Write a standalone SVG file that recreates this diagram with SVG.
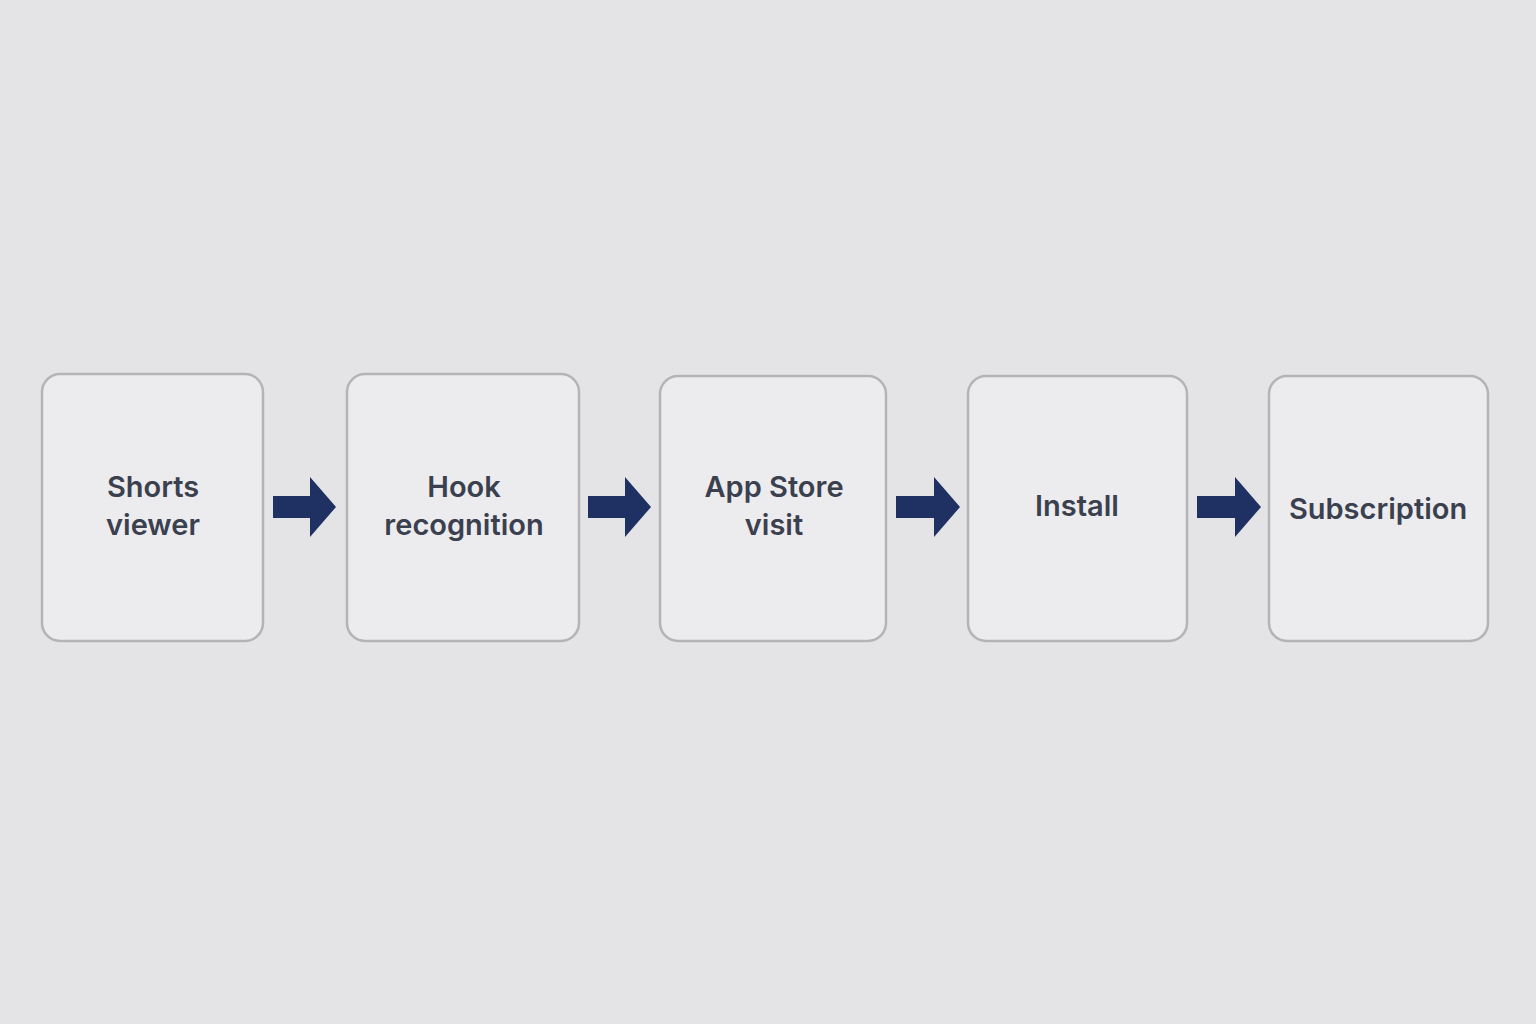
<svg xmlns="http://www.w3.org/2000/svg" width="1536" height="1024" viewBox="0 0 1536 1024">
<defs>
<style>
.box{fill:#ececee;stroke:#b4b4b8;stroke-width:2.5}
.lbl{font-family:Inter,"Noto Sans",sans-serif;font-size:29px;font-weight:600;fill:#3b404f;text-anchor:middle}
.arr{fill:#1f3163}
</style>
</defs>
<rect width="1536" height="1024" fill="#e4e4e6"/>
<g id="n1"><rect class="box" x="42" y="374" width="221" height="267" rx="18"/><text class="lbl" x="153" y="497">Shorts</text><text class="lbl" x="153" y="535">viewer</text></g>
<g id="n2"><rect class="box" x="347" y="374" width="232" height="267" rx="18"/><text class="lbl" x="464" y="497">Hook</text><text class="lbl" x="464" y="535">recognition</text></g>
<g id="n3"><rect class="box" x="660" y="376" width="226" height="265" rx="18"/><text class="lbl" x="774" y="497">App Store</text><text class="lbl" x="774" y="535">visit</text></g>
<g id="n4"><rect class="box" x="968" y="376" width="219" height="265" rx="18"/><text class="lbl" x="1077" y="516">Install</text></g>
<g id="n5"><rect class="box" x="1269" y="376" width="219" height="265" rx="18"/><text class="lbl" x="1378" y="519">Subscription</text></g>
<g id="connectors">
<path class="arr" d="M273 496H310V477L336 507L310 537V518H273Z"/>
<path class="arr" d="M588 496H625V477L651 507L625 537V518H588Z"/>
<path class="arr" d="M896 496H934V477L960 507L934 537V518H896Z"/>
<path class="arr" d="M1197 496H1235V477L1261 507L1235 537V518H1197Z"/>
</g>
</svg>
